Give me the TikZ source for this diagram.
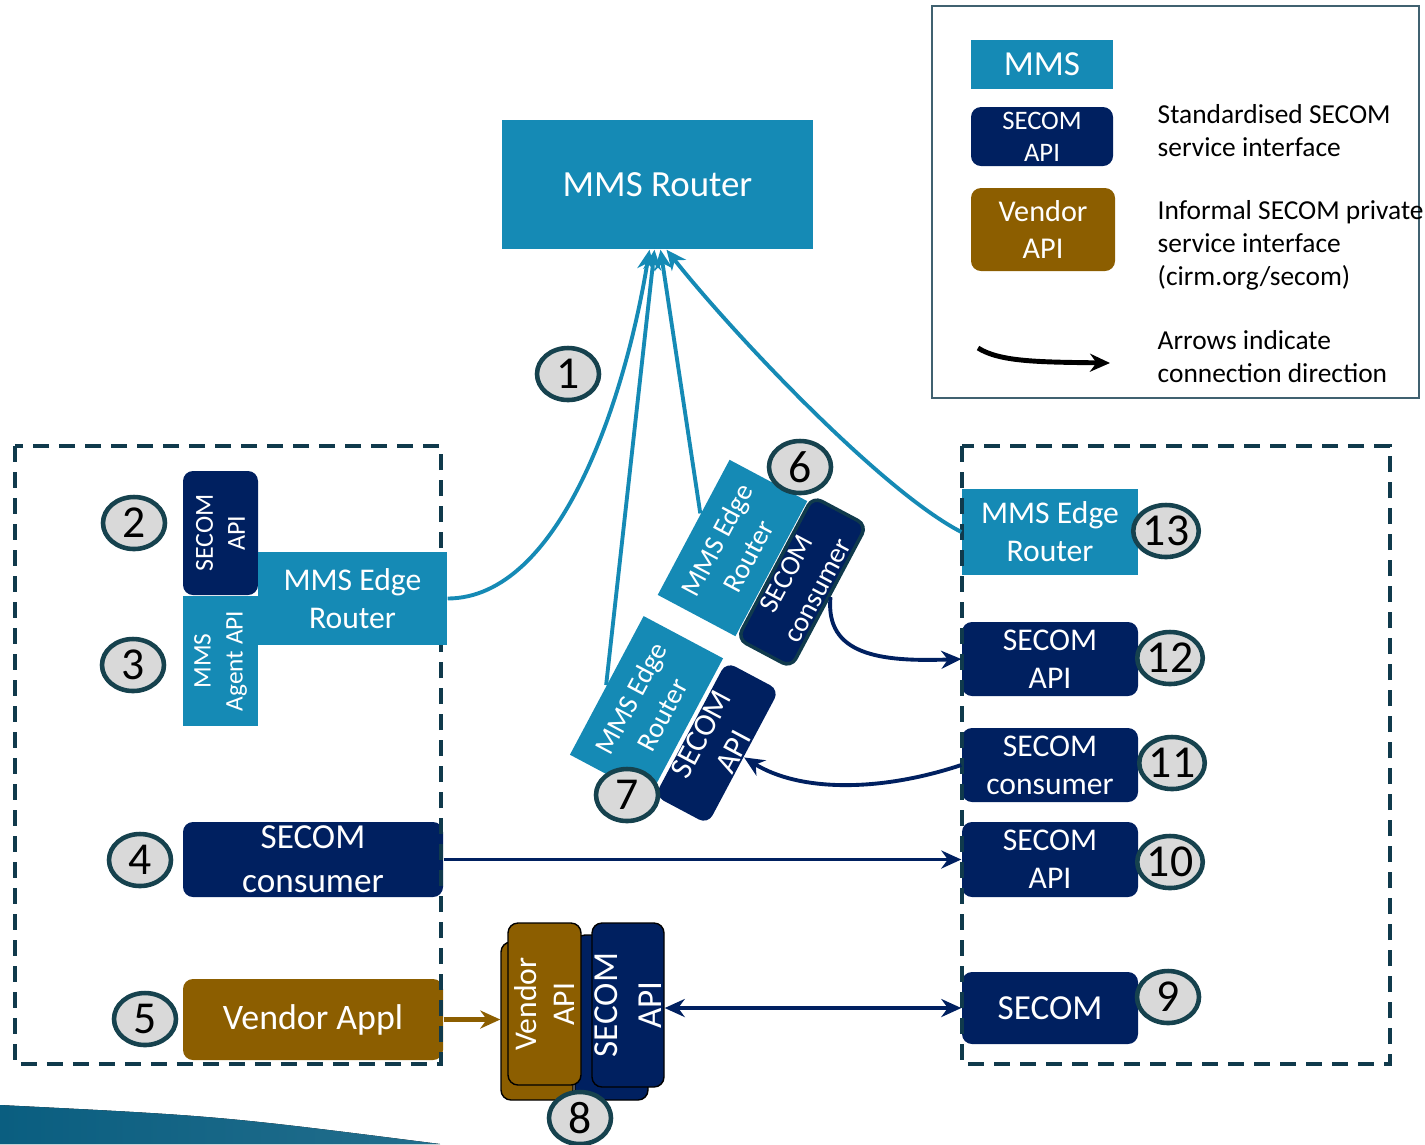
\documentclass[tikz,border=0pt]{standalone}
\usepackage{fontspec}
\setmainfont{Carlito}
\usepackage{xcolor}
\usepackage{tikz}
\usetikzlibrary{arrows.meta,shapes.geometric,calc}

\definecolor{mmsblue}{RGB}{21,138,181}
\definecolor{secomblue}{RGB}{0,32,96}
\definecolor{vendbrown}{RGB}{140,94,0}
\definecolor{zonegray}{RGB}{16,58,76}
\definecolor{badgeline}{RGB}{22,66,78}
\definecolor{badgefill}{RGB}{217,217,217}
\definecolor{bandblue}{RGB}{10,94,128}

\begin{document}
\begin{tikzpicture}[
    x=0.1mm, y=-0.1mm,
    mmsbox/.style={fill=mmsblue, text=white, align=center, inner sep=0pt},
    secbox/.style={fill=secomblue, text=white, align=center, rounded corners=1mm, inner sep=0pt},
    vendbox/.style={fill=vendbrown, text=white, align=center, rounded corners=1mm, inner sep=0pt},
    badge/.style={ellipse, draw=badgeline, line width=1.3pt, fill=badgefill, minimum width=6.2mm, minimum height=5.2mm, inner sep=0pt, font=\fontsize{13}{13}\selectfont},
    zone/.style={draw=zonegray, line width=1.2pt, dash pattern=on 1.6mm off 1mm},
    mmsarr/.style={-{Stealth[length=2mm,width=1.8mm]}, draw=mmsblue, line width=1.1pt},
    secarr/.style={-{Stealth[length=2mm,width=1.8mm]}, draw=secomblue, line width=1.1pt},
    vendarr/.style={-{Stealth[length=2mm,width=1.8mm]}, draw=vendbrown, line width=1.2pt}
]
    \useasboundingbox (0,0) rectangle (1425,1144);
    % slide band at the bottom
    \fill[left color=bandblue, right color=bandblue!90] (0,1105) .. controls (220,1116) .. (440,1144) -- (0,1144) -- cycle;

    % Legend
    \draw[draw=zonegray!80, line width=0.6pt] (932,6) rectangle (1419,398);
    \node[mmsbox, minimum width=14.2mm, minimum height=4.9mm, font=\fontsize{10}{12}\selectfont] (lgmms) at (1042,64.5) {MMS};
    \node[secbox, minimum width=14.2mm, minimum height=5.9mm, font=\fontsize{7.6}{9.1}\selectfont] (lgsecom) at (1042,136.5) {SECOM\\API};
    \node[vendbox, minimum width=14.4mm, minimum height=8.3mm, font=\fontsize{8.6}{10.8}\selectfont] (lgvendor) at (1043,229.5) {Vendor\\API};
    \node[anchor=west, align=left, inner sep=0pt, font=\fontsize{7.8}{9.4}\selectfont] (lgstd) at (1157,131) {Standardised SECOM\\service interface};
    \node[anchor=west, align=left, inner sep=0pt, font=\fontsize{7.8}{9.4}\selectfont] (lginf) at (1157,245) {Informal SECOM private\\service interface\\(cirm.org/secom)};
    \node[anchor=west, align=left, inner sep=0pt, font=\fontsize{7.8}{9.4}\selectfont] (lgarr) at (1157,357) {Arrows indicate\\connection direction};
    \coordinate (la0) at (978,348);
    \coordinate (la1) at (1110,363);
    \draw[-{Stealth[length=2mm,width=1.8mm]}, line width=1.4pt] (la0) .. controls (1000,362) and (1040,362) .. (la1);

    % MMS Router
    \node[mmsbox, minimum width=31.1mm, minimum height=12.9mm, font=\fontsize{10.5}{12}\selectfont] (router) at (657.5,184.5) {MMS Router};

    % Left side
    \node[secbox, rotate=90, minimum width=12.4mm, minimum height=7.5mm, font=\fontsize{7.4}{9.1}\selectfont] (sapi2) at (220.5,533) {SECOM\\API};
    \node[mmsbox, rotate=90, minimum width=13mm, minimum height=7.5mm, font=\fontsize{7.2}{9.1}\selectfont] (agent3) at (220.5,661) {MMS\\Agent API};
    \node[secbox, minimum width=26mm, minimum height=7.5mm, font=\fontsize{10}{12.5}\selectfont] (cons4) at (313,859.5) {SECOM\\consumer};
    \node[vendbox, minimum width=26mm, minimum height=8.1mm, font=\fontsize{10.2}{12}\selectfont] (vend5) at (313,1019.5) {Vendor Appl};

    % Vendor / SECOM stack
    \node[vendbox, draw=black, line width=0.4pt, rotate=90, minimum width=15.8mm, minimum height=7.2mm] (vend8b) at (537,1021) {};
    \node[secbox, draw=black, line width=0.4pt, rotate=90, minimum width=16.5mm, minimum height=7.3mm] (sec8b) at (611.5,1017.5) {};
    \node[vendbox, draw=black, line width=0.4pt, rotate=90, minimum width=16.2mm, minimum height=7.3mm, font=\fontsize{9}{10.8}\selectfont] (vend8) at (544.5,1004) {Vendor\\API};
    \node[secbox, draw=black, line width=0.4pt, rotate=90, minimum width=16.4mm, minimum height=7.2mm, font=\fontsize{10}{12.5}\selectfont] (sec8) at (628,1005) {SECOM\\API};

    % Tilted edge routers
    \node[mmsbox, rotate=62, minimum width=15.3mm, minimum height=8.8mm, font=\fontsize{8}{10}\selectfont] (edge6) at (732.5,548) {MMS Edge\\Router};
    \node[secbox, draw=zonegray, line width=1pt, rotate=62, minimum width=16.1mm, minimum height=6.1mm, font=\fontsize{8}{10}\selectfont] (cons6) at (802,582) {SECOM\\consumer};
    \node[mmsbox, rotate=62, minimum width=15.7mm, minimum height=9mm, font=\fontsize{8}{10}\selectfont] (edge7) at (646.5,706.5) {MMS Edge\\Router};
    \node[secbox, rotate=62, minimum width=15.2mm, minimum height=6mm, font=\fontsize{9}{10.5}\selectfont] (sapi7) at (717,743) {SECOM\\API};

    % Right side
    \node[mmsbox, minimum width=17.6mm, minimum height=8.6mm, font=\fontsize{9}{10.8}\selectfont] (edge13) at (1050,532) {MMS Edge\\Router};
    \node[secbox, minimum width=17.6mm, minimum height=7.4mm, font=\fontsize{9}{10.8}\selectfont] (sapi12) at (1050,659) {SECOM\\API};
    \node[secbox, minimum width=17.6mm, minimum height=7.4mm, font=\fontsize{9}{10.8}\selectfont] (cons11) at (1050,765) {SECOM\\consumer};
    \node[secbox, minimum width=17.6mm, minimum height=7.5mm, font=\fontsize{9}{10.8}\selectfont] (sapi10) at (1050,859.5) {SECOM\\API};
    \node[secbox, minimum width=17.6mm, minimum height=7.2mm, font=\fontsize{10}{12}\selectfont] (sec9) at (1050,1008) {SECOM};

    % Dashed zones
    \draw[zone] (15,446) rectangle (441,1064);
    \draw[zone] (962,446) rectangle (1390,1064);

    \node[mmsbox, minimum width=18.9mm, minimum height=9.3mm, font=\fontsize{9}{10.8}\selectfont] (edgeL) at (352.5,598.5) {MMS Edge\\Router};

    % Connections to the MMS Router
    \draw[mmsarr] (edgeL.east) .. controls (560,598) and (625,400) .. ([xshift=-0.8mm]router.south);
    \draw[mmsarr] (edge7.north) -- ([xshift=-0.3mm]router.south);
    \draw[mmsarr] ($(edge6.north east)!0.4!(edge6.north west)$) -- ([xshift=0.3mm]router.south);
    \draw[mmsarr] (edge13.west) .. controls (880,490) and (730,330) .. ([xshift=0.9mm]router.south);

    % SECOM connections
    \draw[secarr] (cons6.south) .. controls (825,655) and (880,662) .. (sapi12.west);
    \draw[secarr] (cons11.west) .. controls (880,792) and (800,792) .. (sapi7.south);
    \draw[secarr] (cons4.east) -- (sapi10.west);
    \draw[vendarr] (vend5.east) -- (vend5.east -| vend8b.north);
    \draw[{Stealth[length=2mm,width=1.8mm]}-{Stealth[length=2mm,width=1.8mm]}, draw=secomblue, line width=1.1pt] (sec9.west -| sec8.south) -- (sec9.west);

    % Numbered badges
    \node[badge] (b1) at (568,374) {1};
    \node[badge] (b2) at (134,523) {2};
    \node[badge] (b3) at (133,665) {3};
    \node[badge] (b4) at (140,860) {4};
    \node[badge] (b5) at (145,1019) {5};
    \node[badge] (b6) at (800,467) {6};
    \node[badge] (b7) at (627,795) {7};
    \node[badge] (b8) at (580,1118) {8};
    \node[badge] (b9) at (1168,997) {9};
    \node[badge] (b10) at (1170,862) {10};
    \node[badge] (b11) at (1172,763) {11};
    \node[badge] (b12) at (1170,658) {12};
    \node[badge] (b13) at (1166,531) {13};
\end{tikzpicture}
\end{document}
